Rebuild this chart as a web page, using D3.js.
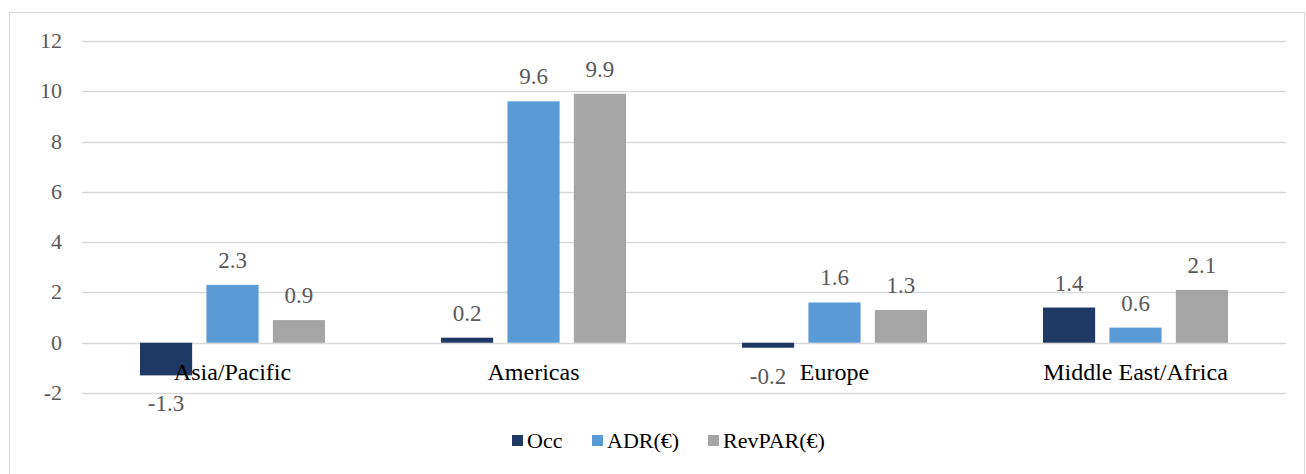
<!DOCTYPE html>
<html lang="en">
<head>
    <meta charset="UTF-8">
    <title>Regional change</title>
    <script src="https://d3js.org/d3.v7.min.js"></script>
    <style>
        body, html {
            margin: 0px;
            background: #fff;
        }
        svg text {
            font-family: "Liberation Serif", "Times New Roman", serif;
            font-size: 22px;
        }
        svg text.cat {
            font-size: 24px;
        }
        svg text.val {
            font-size: 23px;
        }
    </style>
</head>
<body>
    <div id="chart"></div>
    <script>
        const categories = ["Asia/Pacific", "Americas", "Europe", "Middle East/Africa"]
        const seriesNames = ["Occ", "ADR(€)", "RevPAR(€)"]
        const occ = [-1.3, 0.2, -0.2, 1.4]
        const adr = [2.3, 9.6, 1.6, 0.6]
        const revpar = [0.9, 9.9, 1.3, 2.1]
        const yTicks = [-2, 0, 2, 4, 6, 8, 10, 12]
        const colors = ["#203864", "#5B9BD5", "#A5A5A5"]

        const width = 1306, height = 474

        const svg = d3.select("#chart")
            .append("svg")
            .attr("width", width)
            .attr("height", height)

        // outer frame (bottom runs off the picture)
        svg.append("rect")
            .attr("x", 9.5).attr("y", 12.5)
            .attr("width", 1295).attr("height", 490)
            .attr("fill", "none")
            .attr("stroke", "#D9D9D9")

        const y = d3.scaleLinear().domain([-2, 12]).range([393, 41])
        const x0 = d3.scaleBand().domain(categories).range([82, 1286])
        const x1 = d3.scaleBand().domain(seriesNames)
            .range([58, x0.bandwidth() - 58])
            .paddingInner(0.215)

        // grid
        svg.append("g")
            .selectAll("line")
            .data(yTicks)
            .join("line")
            .attr("x1", 82).attr("x2", 1286)
            .attr("y1", d => Math.round(y(d)) + 0.5)
            .attr("y2", d => Math.round(y(d)) + 0.5)
            .attr("stroke", "#D9D9D9")
            .attr("stroke-width", 1.5)

        svg.append("g")
            .selectAll("text")
            .data(yTicks)
            .join("text")
            .attr("x", 62)
            .attr("y", d => y(d) + 7)
            .attr("text-anchor", "end")
            .attr("fill", "#595959")
            .text(d => d)

        const rows = categories.map((c, i) => ({
            cat: c,
            vals: [occ[i], adr[i], revpar[i]].map((v, k) => ({ cat: c, name: seriesNames[k], value: v, k }))
        }))

        const groups = svg.append("g")
            .selectAll("g")
            .data(rows)
            .join("g")
            .attr("transform", d => `translate(${x0(d.cat)},0)`)

        groups.selectAll("rect")
            .data(d => d.vals)
            .join("rect")
            .attr("x", d => x1(d.name))
            .attr("width", x1.bandwidth())
            .attr("y", d => y(Math.max(0, d.value)))
            .attr("height", d => Math.abs(y(d.value) - y(0)))
            .attr("fill", d => colors[d.k])

        // category labels sit just under the zero line
        svg.append("g")
            .selectAll("text")
            .data(categories)
            .join("text")
            .attr("class", "cat")
            .attr("x", d => x0(d) + x0.bandwidth() / 2)
            .attr("y", 380)
            .attr("text-anchor", "middle")
            .attr("fill", "#000")
            .text(d => d)

        groups.selectAll(".val")
            .data(d => d.vals)
            .join("text")
            .attr("class", "val")
            .attr("x", d => x1(d.name) + x1.bandwidth() / 2)
            .attr("y", d => d.value >= 0 ? y(d.value) - 17 : y(d.value) + 36)
            .attr("text-anchor", "middle")
            .attr("fill", "#595959")
            .text(d => d.value.toFixed(1))

        // legend
        const legendX = [512, 592, 708]
        const legend = svg.append("g")
            .selectAll("g")
            .data(seriesNames)
            .join("g")
            .attr("transform", (d, i) => `translate(${legendX[i]},435)`)

        legend.append("rect")
            .attr("width", 11).attr("height", 11)
            .attr("fill", (d, i) => colors[i])

        legend.append("text")
            .attr("x", 15)
            .attr("y", 13)
            .attr("fill", "#000")
            .text(d => d)
    </script>
</body>
</html>
